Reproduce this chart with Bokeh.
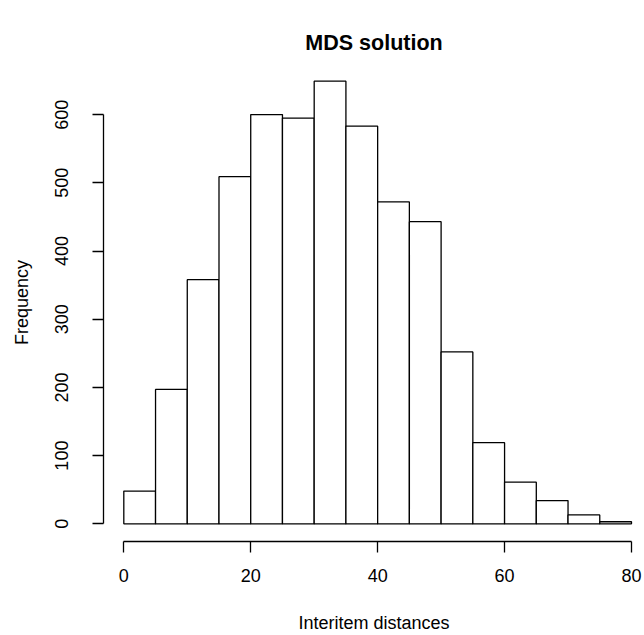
from bokeh.plotting import figure
from bokeh.models import Range1d, FixedTicker, ColumnDataSource
from bokeh.embed import file_html
from bokeh.resources import INLINE

# Histogram of interitem distances (bin width 5)
bin_edges = [0, 5, 10, 15, 20, 25, 30, 35, 40, 45, 50, 55, 60, 65, 70, 75, 80]
counts = [48, 197, 358, 509, 600, 595, 649, 583, 472, 443, 252, 119, 61, 34, 13, 3]
x_ticks = [0, 20, 40, 60, 80]
y_ticks = [0, 100, 200, 300, 400, 500, 600]

FONT = "Liberation Sans"

src = ColumnDataSource(dict(
    left=bin_edges[:-1],
    right=bin_edges[1:],
    top=counts,
    bottom=[0] * len(counts),
))

# R-style axis extents: 4% padding around the data range
xmin, xmax = bin_edges[0], bin_edges[-1]
ymax = max(counts)
xpad = 0.04 * (xmax - xmin)
ypad = 0.04 * ymax

p = figure(
    width=644, height=635,
    output_backend="svg", toolbar_location=None,
    x_range=Range1d(xmin - xpad, 82.05),
    y_range=Range1d(-ypad, ymax + ypad),
    min_border_left=103, min_border_right=0,
    min_border_top=63, min_border_bottom=93,
    title="MDS solution",
)

p.quad(left="left", right="right", top="top", bottom="bottom", source=src,
       fill_color="white", line_color="black", line_width=1.3)

p.title.align = "center"
p.title.text_font = FONT
p.title.text_font_size = "21.5px"
p.title.text_font_style = "bold"
p.title.text_color = "black"
p.title.standoff = 17
p.title.offset = 3

p.grid.visible = False
p.outline_line_color = None
p.background_fill_color = "white"
p.border_fill_color = "white"

for ax in (p.xaxis[0], p.yaxis[0]):
    ax.axis_line_color = "black"
    ax.axis_line_width = 1.3
    ax.major_tick_line_color = "black"
    ax.major_tick_line_width = 1.3
    ax.major_tick_in = 0
    ax.major_tick_out = 11
    ax.minor_tick_line_color = None
    ax.major_label_text_font = FONT
    ax.major_label_text_font_size = "18px"
    ax.major_label_text_color = "black"
    ax.axis_label_text_font = FONT
    ax.axis_label_text_font_size = "18px"
    ax.axis_label_text_font_style = "normal"
    ax.axis_label_text_color = "black"

xa = p.xaxis[0]
xa.bounds = (xmin, xmax)
xa.ticker = FixedTicker(ticks=x_ticks)
xa.axis_label = "Interitem distances"
xa.major_label_standoff = 16
xa.axis_label_standoff = 28

ya = p.yaxis[0]
ya.bounds = (0, 600)
ya.ticker = FixedTicker(ticks=y_ticks)
ya.axis_label = "Frequency"
ya.major_label_orientation = "vertical"
ya.major_label_standoff = 24
ya.axis_label_standoff = 21

open("out.html", "w").write(file_html(p, INLINE))
